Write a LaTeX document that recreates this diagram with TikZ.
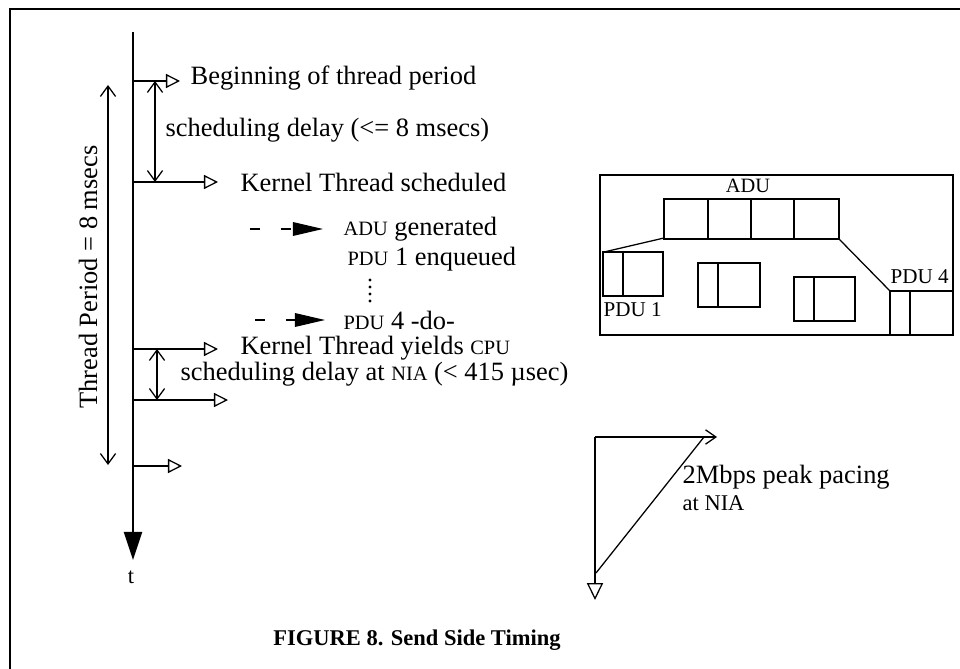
\documentclass[tikz,border=0pt]{standalone}
\usepackage{fontspec}
\setmainfont{Liberation Serif}
\usetikzlibrary{arrows.meta}
\newcommand{\smc}[1]{{\fontsize{14.5}{16}\selectfont #1}}

\begin{document}
\begin{tikzpicture}[x=0.025cm,y=-0.025cm,line width=0.9pt,
  txt/.style={font=\fontsize{18.8}{21}\selectfont,inner sep=0pt,anchor=west},
  tick/.style={-{Triangle[open,length=3.5mm,width=3.5mm]}},
  span/.style={{Straight Barb[length=2.6mm,width=3.8mm]}-{Straight Barb[length=2.6mm,width=3.8mm]}},
  cue/.style={dash pattern=on 7pt off 15pt,-{Triangle[length=7.5mm,width=3.4mm]}}]
\useasboundingbox (0,0) rectangle (960,669);
% frame, cut at the right and bottom
\draw[line width=1.6pt] (10,669) -- (10,9) -- (960,9);

% time axis
\coordinate (top) at (133,32); \coordinate (bot) at (133,560);
\draw[line width=1.3pt,-{Triangle[length=7mm,width=4.5mm]}] (top) -- (bot);
\node[font=\fontsize{16}{18}\selectfont] (t) at (131,577) {t};
\foreach \i/\y/\len in {1/81/180,2/182/218,3/349/218,4/400/228,5/466/182}{
  \coordinate (a\i) at (133,\y); \coordinate (e\i) at (\len,\y);
  \draw[tick] (a\i) -- (e\i);
}

% delays and period
\coordinate (d1) at (155,81); \coordinate (d2) at (155,182);
\coordinate (d3) at (157,349); \coordinate (d4) at (157,400);
\draw[span] (d1) -- (d2); \draw[span] (d3) -- (d4);
\coordinate (p1) at (108,85); \coordinate (p2) at (108,465);
\draw[span] (p1) -- (p2);
\node[font=\fontsize{18.8}{21}\selectfont,rotate=90] (period) at (88,277) {Thread Period = 8 msecs};

\node[txt] (begin) at (190,78) {Beginning of thread period};
\node[txt] (delay) at (165,130) {scheduling delay (<= 8 msecs)};
\node[txt] (sched) at (240,182) {Kernel Thread scheduled};
\node[txt] (adu) at (343,229) {\smc{ADU} generated};
\node[txt] (pdu1) at (347,259) {\smc{PDU} 1 enqueued};
\foreach \y in {280,287,294,301} \fill (370,\y) circle (1.1pt);
\node[txt] (pdu4) at (343,320) {\smc{PDU} 4 -do-};
\node[txt] (yield) at (240,348) {Kernel Thread yields \smc{CPU}};
\node[txt] (nia) at (180,374) {scheduling delay at \smc{NIA} (< 415 µsec)};
\coordinate (c1) at (250,229); \coordinate (c2) at (323,229);
\coordinate (c3) at (255,320); \coordinate (c4) at (325,320);
\draw[cue] (c1) -- (c2); \draw[cue] (c3) -- (c4);

% ADU split into PDUs
\draw (600,175) rectangle (953,335);
\node[font=\fontsize{14.5}{16}\selectfont,inner sep=0pt] (adulbl) at (748,186) {ADU};
\draw (664,199) rectangle (839,239);
\foreach \x in {708,751,794} \draw (\x,199) -- (\x,239);
\draw (603,252) rectangle (663,296); \draw (623,252) -- (623,296);
\draw (698,263) rectangle (760,307); \draw (718,263) -- (718,307);
\draw (794,277) rectangle (855,321); \draw (814,277) -- (814,321);
\draw (890,291) rectangle (953,335); \draw (910,291) -- (910,335);
\coordinate (abl) at (664,238); \coordinate (abr) at (839,239);
\coordinate (q1) at (604,252); \coordinate (q4) at (890,291);
\draw (abl) -- (q1); \draw (abr) -- (q4);
\node[font=\fontsize{15}{17}\selectfont,inner sep=0pt,anchor=west] (lbl1) at (603,310) {PDU 1};
\node[font=\fontsize{15}{17}\selectfont,inner sep=0pt,anchor=west] (lbl4) at (890,277) {PDU 4};

% pacing
\coordinate (g0) at (595,437); \coordinate (g1) at (717,437);
\coordinate (g2) at (595,600); \coordinate (g3) at (596,573);
\coordinate (g4) at (704,437);
\draw[-{Straight Barb[length=2.6mm,width=3.6mm]}] (g0) -- (g1);
\draw[-{Triangle[open,length=4.2mm,width=4mm]}] (g0) -- (g2);
\draw (g3) -- (g4);
\node[txt] (pace) at (682,477) {2Mbps peak pacing};
\node[inner sep=0pt,anchor=west,font=\fontsize{16}{18}\selectfont] (pace2) at (682,503) {at NIA};

\node[font=\bfseries\fontsize{16}{19}\selectfont] (cap) at (417,640) {FIGURE 8. Send Side Timing};
\end{tikzpicture}
\end{document}
